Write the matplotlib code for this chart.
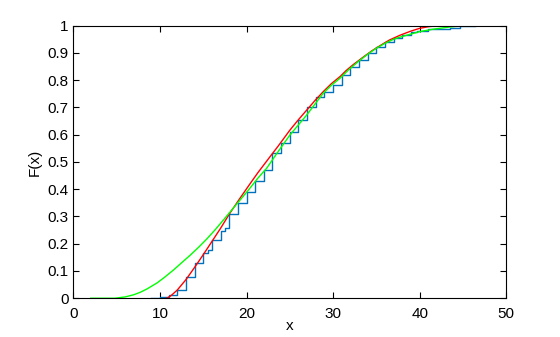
import matplotlib
matplotlib.use("Agg")
import matplotlib.pyplot as plt
import numpy as np

plt.rcParams['font.family'] = ['Liberation Sans', 'DejaVu Sans']

# empirical cdf (blue staircase): step positions and levels after each step
emp_x = [9, 10, 11, 12, 13, 14, 15, 15.5, 16, 17, 17.5, 18, 19, 20, 21, 22, 23, 24,
         25, 26, 27, 28, 29, 30, 31, 32, 33, 34, 35, 36, 37, 38, 39, 39.7, 41,
         43.5, 44.7, 46.4]
emp_F = [0, 0.006, 0.013, 0.03, 0.078, 0.128, 0.165, 0.178, 0.212, 0.245, 0.257,
         0.31, 0.35, 0.39, 0.43, 0.47, 0.532, 0.568, 0.611, 0.654, 0.703, 0.739,
         0.758, 0.782, 0.819, 0.85, 0.875, 0.9, 0.92, 0.94, 0.955, 0.967, 0.975,
         0.981, 0.986, 0.992, 0.998, 1.0]

# fitted cdf (red)
red_x = [10.8, 11.3, 12, 13, 14, 15.05, 16, 16.97, 18.1, 19.25, 20.3, 21.3, 22.33,
         23.7, 25.02, 26.0, 26.95, 27.9, 28.87, 29.8, 30.8, 31.5, 32.33, 33.5, 34.5,
         35.5, 36.5, 37.75, 39, 40, 41, 42, 43.5]
red_F = [0, 0.01, 0.03, 0.068, 0.113, 0.162, 0.208, 0.255, 0.313, 0.367, 0.415, 0.46,
         0.503, 0.56, 0.617, 0.655, 0.69, 0.725, 0.758, 0.787, 0.813, 0.835, 0.857,
         0.885, 0.908, 0.928, 0.947, 0.965, 0.98, 0.99, 0.996, 0.999, 1.0]

# fitted cdf (green)
grn_x = [2, 4.8, 6, 7, 7.74, 8.5, 9.66, 10.5, 11.58, 12.5, 13.5, 14.5, 15.43, 16.4,
         17.36, 18.3, 19.25, 20.3, 21.3, 22.33, 23.7, 25.02, 26.0, 26.95, 27.9, 28.87,
         29.8, 30.8, 31.8, 32.9, 34, 35, 36, 37, 37.75, 39, 40, 41.6, 43.5, 44.5, 46.4]
grn_F = [0, 0, 0.005, 0.013, 0.022, 0.034, 0.056, 0.076, 0.104, 0.13, 0.158, 0.188,
         0.218, 0.252, 0.288, 0.324, 0.36, 0.40, 0.44, 0.477, 0.54, 0.599, 0.636,
         0.672, 0.712, 0.752, 0.781, 0.807, 0.838, 0.868, 0.895, 0.917, 0.935, 0.95,
         0.958, 0.969, 0.978, 0.987, 0.995, 0.998, 1.0]

fig = plt.figure(figsize=(5.6, 3.37), dpi=100)
ax = fig.add_axes([0.131, 0.115, 0.773, 0.809])

ax.step(emp_x, emp_F, where='post', color='#0072BD', lw=1)
ax.plot(red_x, red_F, color='#FF0000', lw=1)
ax.plot(grn_x, grn_F, color='#00FF00', lw=1)

ax.set_xlim(0, 50)
ax.set_ylim(0, 1)
ax.set_xticks([0, 10, 20, 30, 40, 50])
ax.set_yticks(np.arange(0, 1.01, 0.1))
ax.set_yticklabels(['0', '0.1', '0.2', '0.3', '0.4', '0.5', '0.6', '0.7', '0.8', '0.9', '1'])
ax.tick_params(direction='in', top=True, right=True, length=4, labelsize=11, width=0.8)
ax.tick_params(axis='x', pad=6)
for s in ax.spines.values():
    s.set_linewidth(0.8)
ax.set_xlabel('x', fontsize=11, labelpad=-1)
ax.set_ylabel('F(x)', fontsize=11)

fig.savefig('out.png', dpi=100)
